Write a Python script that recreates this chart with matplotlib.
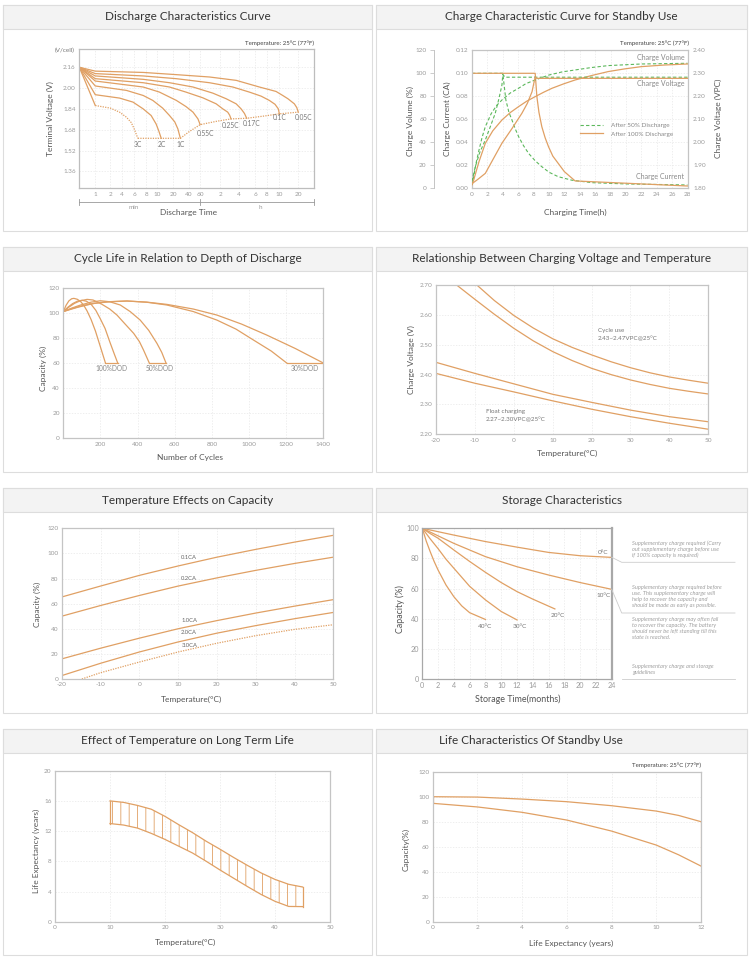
#!/usr/bin/env python3
"""
Battery datasheet sheet: eight small characteristic charts in one figure.
Output: out.png (750x960)
"""
import numpy as np
import matplotlib
matplotlib.use("Agg")
import matplotlib.pyplot as plt
from matplotlib.lines import Line2D
from matplotlib.patches import Rectangle
from matplotlib.ticker import FormatStrFormatter
from matplotlib.transforms import blended_transform_factory

plt.rcParams["font.family"] = ["Lato", "DejaVu Sans"]
plt.rcParams["axes.unicode_minus"] = False
plt.rcParams["hatch.linewidth"] = 0.6
plt.rcParams["hatch.color"] = "#e0a064"

W, H = 750, 960
ORANGE = "#e0a064"
ORANGE_LIGHT = "#f2cba4"
GREEN = "#5cb85c"
SPINE = "#c4c4c4"
GRID = "#e8e8e8"
TICK = "#9a9a9a"
LABEL = "#555555"
TITLE = "#333333"

# ---------------- data ----------------
# 1) discharge curves: time in minutes, terminal voltage per cell
DIS_LABELS = ["0.05C", "0.1C", "0.17C", "0.25C", "0.55C", "1C", "2C"]
DIS_T = [
    [0, 1, 7.5, 24, 88, 222, 403, 570, 717, 880, 1083, 1160, 1210],
    [0, 1, 7.5, 24, 88, 200, 317, 420, 503, 560, 593, 610],
    [0, 1, 7.5, 17.7, 47, 98, 158, 221, 255, 280, 297],
    [0, 1, 7.5, 17.7, 36, 68, 108, 137, 168, 180, 189],
    [0, 1, 7.5, 11.4, 24, 36, 47, 56, 60],
    [0, 1, 4.7, 7.5, 9.2, 13.4, 17.7, 22, 25.9, 29],
    [0, 1, 3.55, 5.8, 7.5, 8.9, 9.8, 11, 12.5],
]
DIS_V = [
    [2.16, 2.13, 2.12, 2.103, 2.085, 2.059, 2.008, 1.974, 1.943, 1.918, 1.879, 1.850, 1.815],
    [2.16, 2.111, 2.093, 2.072, 2.041, 2.008, 1.969, 1.938, 1.905, 1.875, 1.840, 1.802],
    [2.16, 2.093, 2.067, 2.041, 2.008, 1.961, 1.918, 1.879, 1.840, 1.805, 1.768],
    [2.16, 2.072, 2.041, 2.008, 1.969, 1.925, 1.879, 1.840, 1.815, 1.792, 1.763],
    [2.16, 2.054, 2.008, 1.969, 1.905, 1.858, 1.815, 1.763, 1.719],
    [2.16, 2.016, 1.982, 1.943, 1.905, 1.846, 1.789, 1.740, 1.686, 1.614],
    [2.16, 1.949, 1.923, 1.892, 1.840, 1.789, 1.724, 1.670, 1.614],
]
T_3C_HEAD = [0, 1]
V_3C_HEAD = [2.16, 1.866]
T_3C = [1, 2, 3.55, 4.7, 5.5, 6, 6.6]
V_3C = [1.866, 1.846, 1.815, 1.776, 1.735, 1.686, 1.614]
CUT_T = [6.6, 29, 40, 60, 110, 189, 297, 450, 610, 1210]
CUT_V = [1.614, 1.614, 1.665, 1.719, 1.745, 1.763, 1.768, 1.785, 1.802, 1.815]
DIS_TICK_MIN = [1, 2, 4, 6, 8, 10, 20, 40, 60, 120, 240, 360, 480, 600, 1200]
DIS_TICK_LABELS = ["1", "2", "4", "6", "8", "10", "20", "40", "60",
                   "2", "4", "6", "8", "10", "20"]
DIS_VTICKS = [2.16, 2.00, 1.84, 1.68, 1.52, 1.36]
# the time axis of the original is hand-spaced: minutes -> axis fraction
SCALE_MIN = [0, 1, 2, 4, 6, 8, 10, 20, 40, 60, 120, 240, 360, 480, 600, 1200, 1800]
SCALE_POS = [0, .068, .132, .183, .234, .285, .332, .40, .468, .515, .60,
             .681, .749, .80, .851, .932, 1.0]

# 2) charge curves for standby use (hours)
V50_H = [0, 0.43, 1.0, 1.73, 2.4, 3.02, 3.5, 3.89, 4.0, 4.3, 28]
V50_V = [1.83, 1.894, 1.955, 2.010, 2.07, 2.126, 2.19, 2.249, 2.295, 2.283, 2.283]
I50_H = [0, 4.0, 4.4, 4.8, 5.19, 5.6, 6.05, 6.7, 7.35, 8.2, 9.07, 10, 11.2, 13, 15.6, 20, 28]
I50_CA = [0.10, 0.10, 0.0768, 0.066, 0.0594, 0.052, 0.045, 0.037, 0.0304, 0.024, 0.0188,
          0.014, 0.0101, 0.007, 0.0049, 0.0038, 0.0029]
Q50_H = [0, 0.22, 0.5, 0.9, 1.3, 1.73, 2.5, 3.2, 3.89, 5, 6.05, 7, 8.21, 10, 11.7, 13.4,
         15.5, 17.7, 22, 28]
Q50_PCT = [3, 10.1, 21, 33, 44, 53.6, 65, 72, 76.8, 83, 87, 91, 94.2, 98.5, 101.2, 102.9,
           105, 106.7, 108.1, 108.7]
V100_H = [0, 0.8, 1.73, 2.8, 3.89, 5.2, 6.48, 7.2, 7.8, 8.21, 8.4, 28]
V100_V = [1.82, 1.84, 1.865, 1.93, 1.996, 2.06, 2.126, 2.17, 2.22, 2.285, 2.278, 2.278]
I100_H = [0, 8.21, 8.43, 8.7, 9.07, 9.5, 9.94, 10.5, 11.2, 12, 13.0, 13.4, 28]
I100_CA = [0.10, 0.10, 0.0797, 0.066, 0.0536, 0.044, 0.0362, 0.028, 0.0217, 0.0145,
           0.0087, 0.0064, 0.002]
Q100_H = [0, 0.22, 0.9, 1.73, 2.7, 3.89, 5, 6.05, 7.1, 8.21, 9.3, 10.4, 11.9, 13.4, 15.5,
          17.7, 19.8, 22, 25, 28]
Q100_PCT = [3, 7.2, 23, 39.1, 50, 59.4, 66, 71, 75.7, 79.7, 83.5, 87, 90.8, 94.2, 98,
            101.5, 103.8, 105.8, 107.2, 108.1]
LEGEND_LABELS = ["After 50% Discharge", "After 100% Discharge"]

# 3) cycle life vs depth of discharge (inner / outer curve per DOD)
DOD_LABELS = ["100%DOD", "50%DOD", "30%DOD"]
DOD_IN_N = [[0, 15, 30, 45, 57, 75, 93, 110, 128, 150, 173, 190, 209, 227],
            [0, 30, 60, 90, 128, 160, 200, 250, 289, 330, 379, 410, 432, 463],
            [0, 50, 110, 180, 236, 343, 450, 558, 700, 827, 930, 1024, 1120, 1203]]
DOD_IN_CAP = [[101, 106, 109.5, 111.2, 111.5, 110.8, 109, 106, 101.5, 94.5, 85.5, 77.5, 68.5, 60],
              [101, 104.5, 107.5, 109.5, 110.7, 110.2, 107.5, 103, 98.2, 91.5, 83.6, 77, 70.3, 60],
              [101, 103.5, 106, 107.8, 108.8, 109.4, 108.4, 106.2, 101, 94.2, 87, 78.3, 69.5, 60]]
DOD_OUT_N = [[0, 25, 50, 75, 101, 125, 150, 175, 200, 225, 250, 275, 293],
             [0, 50, 93, 150, 200, 250, 307, 360, 414, 460, 504, 530, 553],
             [0, 80, 164, 250, 343, 450, 558, 700, 827, 960, 1095, 1250, 1400]]
DOD_OUT_CAP = [[101, 104.5, 107.3, 109.2, 110, 109.2, 106.7, 102, 95, 87.5, 77, 67, 60],
               [101, 104, 106.2, 108.5, 109.6, 108.8, 106.2, 101, 94.2, 86, 75.7, 68.5, 60],
               [101, 104.5, 107.5, 108.8, 109.4, 108.5, 106.7, 103, 98.2, 91, 82.3, 71.5, 60]]

# 4) charging voltage vs temperature
CV_T = [-20, -10, 0, 10, 20, 30, 40, 50]
CYC_HI_T = [-9.5, -5, 0, 5, 10, 15, 20, 25, 30, 35, 40, 45, 50]
CYC_HI_V = [2.70, 2.648, 2.598, 2.556, 2.52, 2.491, 2.466, 2.443, 2.423, 2.406, 2.392,
            2.381, 2.371]
CYC_LO_T = [-14.7, -10, -5, 0, 5, 10, 15, 20, 25, 30, 35, 40, 45, 50]
CYC_LO_V = [2.70, 2.652, 2.602, 2.555, 2.513, 2.477, 2.447, 2.421, 2.40, 2.382, 2.367,
            2.354, 2.344, 2.335]
FLT_HI_V = [2.441, 2.404, 2.369, 2.334, 2.307, 2.281, 2.259, 2.242]
FLT_LO_V = [2.404, 2.371, 2.342, 2.312, 2.284, 2.259, 2.237, 2.217]

# 5) temperature effects on capacity
TC_T = [-20, -10, 0, 10, 20, 30, 40, 50]
TC_LABELS = ["0.1CA", "0.2CA", "1.0CA", "2.0CA"]
TC_CAP = [[65.3, 74, 82.5, 90, 97, 103.2, 109, 114.4],
          [50, 58.5, 66.5, 74, 80.5, 86.5, 92, 97],
          [16, 24.5, 32.5, 40, 46.5, 52.5, 58, 63.2],
          [2.7, 12.5, 21.5, 29.5, 36.5, 42.5, 48, 53]]
TC3_T = [-14.8, -10, 0, 10, 20, 30, 40, 50]
TC3_CAP = [0, 5, 13.5, 21.5, 28.5, 34.5, 39.5, 43.2]
TC_LABEL_Y = [96.6, 80.2, 46.4, 36.9, 26.3]

# 6) storage characteristics (months)
ST_LABELS = ["0°C", "10°C", "20°C", "30°C", "40°C"]
ST_M = [[0, 4, 8, 12, 16, 20, 24],
        [0, 2, 4, 8, 12, 16, 20, 24],
        [0, 1, 2, 4, 6, 8, 10, 12, 14, 16.8],
        [0, 1, 2, 3, 4, 6, 8, 10, 12],
        [0, 0.5, 1, 1.5, 2, 3, 4, 5, 6, 8]]
ST_CAP = [[100, 95.5, 91.2, 87.5, 84, 81.8, 80.7],
          [100, 95, 90, 81.2, 74.5, 69, 64, 59.5],
          [100, 96.5, 93.4, 85.6, 78, 70.8, 64, 58, 53, 46.5],
          [100, 93, 86.5, 79.5, 73.5, 61.5, 52.5, 44.8, 39.2],
          [100, 91.5, 84.5, 78, 72.3, 62.4, 54.6, 48.5, 44, 39.5]]
ST_LABEL_XY = [(22.9, 83.8), (23.0, 55.3), (17.2, 42), (12.4, 34.7), (7.9, 34.7)]
ST_NOTES = [
    "Supplementary charge required (Carry\nout supplementary charge before use\nif 100% capacity is required)",
    "Supplementary charge required before\nuse. This supplementary charge will\nhelp to recover the capacity and\nshould be made as early as possible.",
    "Supplementary charge may often fail\nto recover the capacity. The battery\nshould never be left standing till this\nstate is reached.",
    "Supplementary charge and storage\nguidelines",
]

# 7) temperature vs long term life
LIFE_T = [10, 12.5, 15, 17.5, 20, 22.5, 25, 27.5, 30, 32.5, 35, 37.5, 40, 42.5, 45]
LIFE_HI = [16.0, 15.8, 15.4, 14.9, 13.95, 12.85, 11.8, 10.65, 9.6, 8.5, 7.45, 6.45, 5.6, 4.95, 4.6]
LIFE_LO = [13.0, 12.8, 12.4, 11.7, 10.9, 10.0, 9.1, 8.0, 6.85, 5.75, 4.65, 3.6, 2.7, 2.02, 2.0]

# 8) standby life
SB_YEARS = [0, 2, 4, 6, 8, 10, 11, 12]
SB_HI = [100, 99.7, 98.1, 96, 92.8, 88.5, 85, 80]
SB_LO = [94.7, 91.8, 87.5, 81.3, 72.5, 61.3, 53.5, 44.5]

TEMP_NOTE = "Temperature: 25°C (77°F)"

# ---------------- helpers ----------------
fig = plt.figure(figsize=(W / 100, H / 100), dpi=100)


def fx(x):
    return x / W


def fy(y):
    return 1 - y / H


def ftext(x, y, s, **kw):
    kw.setdefault("color", LABEL)
    kw.setdefault("ha", "center")
    kw.setdefault("va", "center")
    return fig.text(fx(x), fy(y), s, **kw)


def fline(xs, ys, **kw):
    fig.add_artist(Line2D([fx(x) for x in xs], [fy(y) for y in ys],
                          transform=fig.transFigure, **kw))


def panel(l, t, r, b, title, tx=None):
    fig.add_artist(Rectangle((fx(l), fy(b)), (r - l) / W, (b - t) / H, zorder=-5,
                             transform=fig.transFigure, fc="white", ec="#dddddd", lw=0.8))
    fig.add_artist(Rectangle((fx(l), fy(t + 24)), (r - l) / W, 24 / H, zorder=-4,
                             transform=fig.transFigure, fc="#f3f3f3", ec="#dddddd", lw=0.8))
    ftext((l + r) / 2 if tx is None else tx, t + 12, title, fontsize=8.5, color=TITLE)


def make_ax(l, t, r, b, xlim, ylim, xticks, yticks, size=4.6, spine=SPINE, scale=None):
    ax = fig.add_axes([fx(l), fy(b), (r - l) / W, (b - t) / H])
    if scale is not None:
        ax.set_xscale("function", functions=scale)
    ax.set_xlim(*xlim)
    ax.set_ylim(*ylim)
    ax.set_xticks(xticks)
    ax.set_yticks(yticks)
    ax.tick_params(length=0, labelsize=size, labelcolor=TICK, pad=2.5)
    for s in ax.spines.values():
        s.set_color(spine)
        s.set_linewidth(0.9)
    ax.grid(True, color=GRID, lw=0.5, ls=(0, (2, 2)))
    ax.set_axisbelow(True)
    return ax


def small(ax, x, y, s, **kw):
    kw.setdefault("fontsize", 4.5)
    kw.setdefault("color", "#777777")
    kw.setdefault("ha", "center")
    kw.setdefault("va", "center")
    ax.text(x, y, s, **kw)


LW = 0.9
DOT = (0, (1, 1))
DASH = (0, (3, 2))

# ---------------- panel frames ----------------
LX = (3, 372)
RX = (376, 747)
ROWS = [(5, 231), (247, 472), (488, 713), (729, 955)]
panel(LX[0], ROWS[0][0], LX[1], ROWS[0][1], "Discharge Characteristics Curve")
panel(RX[0], ROWS[0][0], RX[1], ROWS[0][1], "Charge Characteristic Curve for Standby Use")
panel(LX[0], ROWS[1][0], LX[1], ROWS[1][1], "Cycle Life in Relation to Depth of Discharge")
panel(RX[0], ROWS[1][0], RX[1], ROWS[1][1], "Relationship Between Charging Voltage and Temperature")
panel(LX[0], ROWS[2][0], LX[1], ROWS[2][1], "Temperature Effects on Capacity")
panel(RX[0], ROWS[2][0], RX[1], ROWS[2][1], "Storage Characteristics")
panel(LX[0], ROWS[3][0], LX[1], ROWS[3][1], "Effect of Temperature on Long Term Life")
panel(RX[0], ROWS[3][0], RX[1], ROWS[3][1], "Life Characteristics Of Standby Use", tx=531)

# ---------------- 1) discharge ----------------
fwd = lambda x: np.interp(x, SCALE_MIN, SCALE_POS)
inv = lambda p: np.interp(p, SCALE_POS, SCALE_MIN)
ax1 = make_ax(79.3, 49, 314, 188.3, (0, 1800), (1.23, 2.30), DIS_TICK_MIN, DIS_VTICKS,
              spine="#bdbdbd", scale=(fwd, inv))
ax1.set_xticklabels(DIS_TICK_LABELS)
ax1.yaxis.set_major_formatter(FormatStrFormatter("%.2f"))
for t, v in zip(DIS_T, DIS_V):
    ax1.plot(t, v, color=ORANGE, lw=LW)
ax1.plot(T_3C_HEAD, V_3C_HEAD, color=ORANGE, lw=LW)
ax1.plot(T_3C, V_3C, color=ORANGE, lw=LW, ls=DOT)
ax1.plot(CUT_T, CUT_V, color=ORANGE, lw=LW, ls=DOT)
dis_label_xy = [(1387, 1.773), (632, 1.773), (337, 1.727), (183, 1.712), (75, 1.65),
                (28.8, 1.565), (13, 1.565)]
for lab, (x, y) in zip(DIS_LABELS, dis_label_xy):
    small(ax1, x, y, lab, fontsize=4.8)
small(ax1, 6.67, 1.565, "3C", fontsize=4.8)
ax1.text(1.0, 1.043, TEMP_NOTE, transform=ax1.transAxes, ha="right", va="center",
         fontsize=4.4, color="#444444")
tr = blended_transform_factory(ax1.transData, ax1.transAxes)
ax1.plot([0, 1800], [-0.098, -0.098], transform=tr, clip_on=False, color="#999999", lw=0.6)
for xv in (0, 60, 1800):
    ax1.plot([xv, xv], [-0.076, -0.12], transform=tr, clip_on=False, color="#999999", lw=0.6)
ftext(134, 207.5, "min", fontsize=4.5, color="#999999")
ftext(260, 207.5, "h", fontsize=4.5, color="#999999")
ftext(189, 213, "Discharge Time", fontsize=6)
ftext(50, 119, "Terminal Voltage (V)", fontsize=6, rotation=90)
ftext(75, 50, "(V/cell)", fontsize=4.6, ha="right", color="#777777")

# ---------------- 2) charge for standby ----------------
ax2 = make_ax(472, 50.3, 687.5, 188.3, (0, 28), (0, 0.12), list(range(0, 29, 2)),
              [0, 0.02, 0.04, 0.06, 0.08, 0.10, 0.12])
ax2.yaxis.set_major_formatter(FormatStrFormatter("%.2f"))
ax2.plot(I50_H, I50_CA, color=GREEN, lw=0.8, ls=DASH)
ax2.plot(I100_H, I100_CA, color=ORANGE, lw=LW)

axv = ax2.twinx()
axv.set_ylim(0, 120)
axv.set_yticks(range(0, 121, 20))
axv.yaxis.tick_left()
for side in ("right", "top", "bottom"):
    axv.spines[side].set_visible(False)
axv.spines["left"].set_visible(True)
axv.spines["left"].set_position(("axes", -0.178))
axv.spines["left"].set_color(SPINE)
axv.spines["left"].set_linewidth(0.7)
axv.tick_params(axis="y", direction="out", length=3, width=0.6, color=SPINE,
                labelsize=4.6, labelcolor=TICK, pad=2)
axv.plot(Q50_H, Q50_PCT, color=GREEN, lw=0.8, ls=DASH)
axv.plot(Q100_H, Q100_PCT, color=ORANGE, lw=LW)

axr = ax2.twinx()
axr.set_ylim(1.8, 2.4)
axr.set_yticks([1.8, 1.9, 2.0, 2.1, 2.2, 2.3, 2.4])
axr.yaxis.set_major_formatter(FormatStrFormatter("%.2f"))
for s in axr.spines.values():
    s.set_visible(False)
axr.tick_params(length=0, labelsize=4.6, labelcolor=TICK, pad=4)
axr.plot(V50_H, V50_V, color=GREEN, lw=0.8, ls=DASH)
axr.plot(V100_H, V100_V, color=ORANGE, lw=LW)

handles = [Line2D([], [], color=GREEN, lw=0.8, ls=DASH), Line2D([], [], color=ORANGE, lw=LW)]
leg = axr.legend(handles, LEGEND_LABELS, loc="upper left", bbox_to_anchor=(0.5, 0.475),
                 frameon=False, fontsize=4.6, handlelength=3.6, labelspacing=0.45,
                 handletextpad=1.3, borderaxespad=0, borderpad=0)
for t in leg.get_texts():
    t.set_color("#888888")
for lab, yy in (("Charge Volume", 0.951), ("Charge Voltage", 0.763), ("Charge Current", 0.082)):
    ax2.text(0.985, yy, lab, transform=ax2.transAxes, ha="right", va="center",
             fontsize=5, color="#888888")
ax2.text(1.007, 1.053, TEMP_NOTE, transform=ax2.transAxes, ha="right", va="center",
         fontsize=4.4, color="#444444")
ftext(410, 121, "Charge Volume (%)", fontsize=6, rotation=90)
ftext(447.5, 119, "Charge Current (CA)", fontsize=6, rotation=90)
ftext(718, 118, "Charge Voltage (VPC)", fontsize=6, rotation=90)
ftext(575.5, 212, "Charging Time(h)", fontsize=6)

# ---------------- 3) cycle life ----------------
ax3 = make_ax(63.3, 287.7, 323.3, 438.3, (0, 1400), (0, 120), range(200, 1401, 200),
              range(0, 121, 20))
for xi, yi, xo, yo in zip(DOD_IN_N, DOD_IN_CAP, DOD_OUT_N, DOD_OUT_CAP):
    ax3.plot(xi, yi, color=ORANGE, lw=LW)
    ax3.plot(xo, yo, color=ORANGE, lw=LW)
    ax3.plot([xi[-1], xo[-1]], [yi[-1], yo[-1]], color=ORANGE, lw=LW)
for lab, x in zip(DOD_LABELS, (261, 518, 1298)):
    small(ax3, x, 55.8, lab, fontsize=4.8, color="#888888")
ftext(43, 368, "Capacity (%)", fontsize=6, rotation=90)
ftext(190, 457.3, "Number of Cycles", fontsize=6)

# ---------------- 4) charging voltage vs temperature ----------------
ax4 = make_ax(436, 285, 708.3, 434.3, (-20, 50), (2.20, 2.70), range(-20, 51, 10),
              [2.2, 2.3, 2.4, 2.5, 2.6, 2.7])
ax4.yaxis.set_major_formatter(FormatStrFormatter("%.2f"))
ax4.plot(CYC_HI_T, CYC_HI_V, color=ORANGE, lw=LW)
ax4.plot(CYC_LO_T, CYC_LO_V, color=ORANGE, lw=LW)
ax4.plot(CV_T, FLT_HI_V, color=ORANGE, lw=LW)
ax4.plot(CV_T, FLT_LO_V, color=ORANGE, lw=LW)
small(ax4, 21.6, 2.547, "Cycle use", ha="left")
small(ax4, 21.6, 2.519, "2.43~2.47VPC@25°C", ha="left")
small(ax4, -7.1, 2.276, "Float charging", ha="left")
small(ax4, -7.1, 2.248, "2.27~2.30VPC@25°C", ha="left")
ftext(411.7, 360, "Charge Voltage (V)", fontsize=6, rotation=90)
ftext(567.7, 453.3, "Temperature(°C)", fontsize=6)

# ---------------- 5) temperature vs capacity ----------------
ax5 = make_ax(61.7, 528.3, 333.3, 679, (-20, 50), (0, 120), range(-20, 51, 10),
              range(0, 121, 20))
for cap in TC_CAP:
    ax5.plot(TC_T, cap, color=ORANGE, lw=LW)
ax5.plot(TC3_T, TC3_CAP, color=ORANGE, lw=LW, ls=DOT)
for lab, y in zip(TC_LABELS + ["3.0CA"], TC_LABEL_Y):
    small(ax5, 10.8, y, lab, ha="left", fontsize=4.2, color="#666666")
ftext(37.3, 604, "Capacity (%)", fontsize=6, rotation=90)
ftext(191.3, 699.3, "Temperature(°C)", fontsize=6)

# ---------------- 6) storage ----------------
ax6 = make_ax(422.3, 528.3, 611.7, 679, (0, 24), (0, 100), range(0, 25, 2),
              range(0, 101, 20), size=5.2, spine="#a8a8a8")
ax6.spines["right"].set_linewidth(1.6)
for m, c in zip(ST_M, ST_CAP):
    ax6.plot(m, c, color=ORANGE, lw=LW)
for lab, (x, y) in zip(ST_LABELS, ST_LABEL_XY):
    small(ax6, x, y, lab, fontsize=4.6, color="#777777")
fline([611.7, 621.7, 735], [557.3, 562.3, 562.3], color="#cccccc", lw=0.6)
fline([611.7, 621.7, 735], [589.3, 613, 613], color="#cccccc", lw=0.6)
fline([621.7, 735], [679, 679], color="#cccccc", lw=0.6)
for note, top in zip(ST_NOTES, (540, 585, 617, 663.5)):
    ftext(631.7, top, note, ha="left", va="top", fontsize=4.1, color="#a0a0a0",
          style="italic", linespacing=1.25)
ftext(400, 609, "Capacity (%)", fontsize=6.4, rotation=90)
ftext(517.5, 699.3, "Storage Time(months)", fontsize=6.4)

# ---------------- 7) long term life ----------------
ax7 = make_ax(55, 770.7, 330, 921.7, (0, 50), (0, 20), range(0, 51, 10), range(0, 21, 4))
ax7.fill_between(LIFE_T, LIFE_LO, LIFE_HI, facecolor="none", edgecolor=ORANGE,
                 hatch="||", linewidth=0)
ax7.plot(LIFE_T, LIFE_HI, color=ORANGE, lw=LW)
ax7.plot(LIFE_T, LIFE_LO, color=ORANGE, lw=LW)
ax7.plot([LIFE_T[0]] * 2, [LIFE_LO[0], LIFE_HI[0]], color=ORANGE, lw=LW)
ax7.plot([LIFE_T[-1]] * 2, [LIFE_LO[-1], LIFE_HI[-1]], color=ORANGE, lw=LW)
ftext(36.7, 851, "Life Expectancy (years)", fontsize=6, rotation=90)
ftext(185.7, 942.7, "Temperature(°C)", fontsize=6)

# ---------------- 8) standby life ----------------
ax8 = make_ax(432.7, 771.7, 701, 921.7, (0, 12), (0, 120), range(0, 13, 2), range(0, 121, 20))
ax8.plot(SB_YEARS, SB_HI, color=ORANGE, lw=LW)
ax8.plot(SB_YEARS, SB_LO, color=ORANGE, lw=LW)
ax8.plot([SB_YEARS[0]] * 2, [SB_LO[0], SB_HI[0]], color=ORANGE, lw=LW)
ax8.plot([SB_YEARS[-1]] * 2, [SB_LO[-1], SB_HI[-1]], color=ORANGE_LIGHT, lw=LW)
ax8.text(1.0, 1.045, TEMP_NOTE, transform=ax8.transAxes, ha="right", va="center",
         fontsize=4.4, color="#444444")
ftext(405.7, 849, "Capacity(%)", fontsize=6, rotation=90)
ftext(571, 943.3, "Life Expectancy (years)", fontsize=6)

fig.savefig("out.png", dpi=100, facecolor="white")
print("saved out.png")
